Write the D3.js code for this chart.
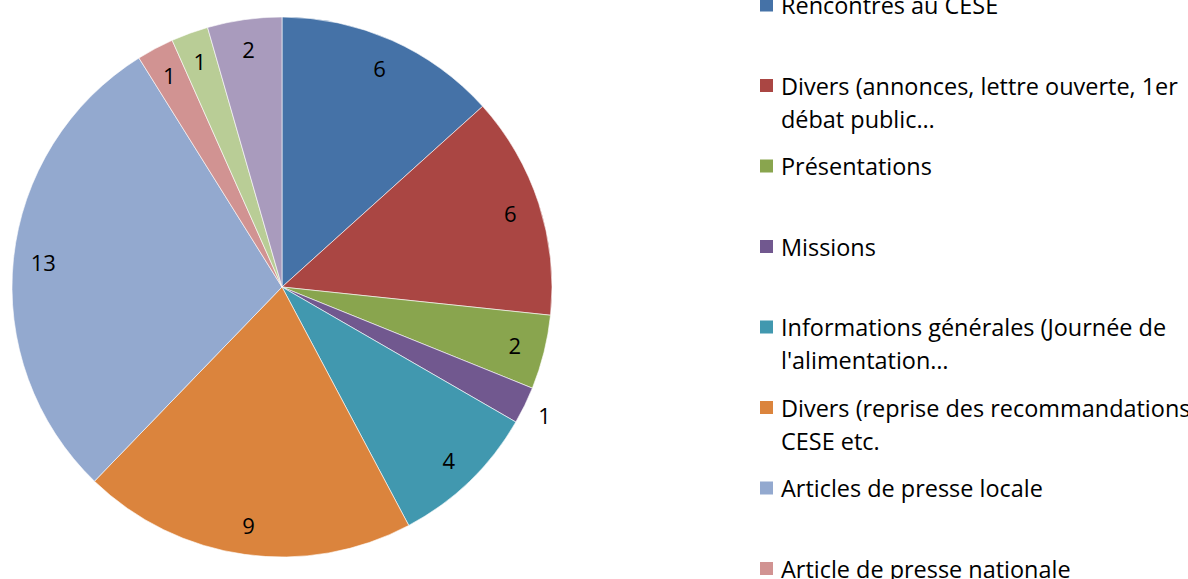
<!DOCTYPE html>
<html>
<head>
<meta charset="utf-8">
<script src="https://cdn.jsdelivr.net/npm/d3@7"></script>
<style>
  body { margin: 0; background: #fff; }
  svg { display: block; }
</style>
</head>
<body>
<svg id="chart"></svg>
<script>
// Categories (legend lines as shown, Excel-truncated)
const categories = [
    ["Rencontres au CESE"],
    ["Divers (annonces, lettre ouverte, 1er", "débat public…"],
    ["Présentations"],
    ["Missions"],
    ["Informations générales (Journée de", "l'alimentation…"],
    ["Divers (reprise des recommandations", "CESE etc."],
    ["Articles de presse locale"],
    ["Article de presse nationale"],
    ["Autres"],
    ["Autres (2)"]
];
const values = [6, 6, 2, 1, 4, 9, 13, 1, 1, 2];
const colors = ["#4572A7", "#AA4643", "#89A54E", "#71588F", "#4198AF",
                "#DB843D", "#93A9CF", "#D19392", "#B9CD96", "#A99BBD"];

function DrawPie(targetElem, width, height) {

    const svg = d3.select(targetElem)
        .attr("width", width)
        .attr("height", height);

    svg.selectAll("*").remove();

    const cx = 282, cy = 287, radius = 270;
    const font = "'Open Sans', 'Noto Sans', sans-serif";

    const data = values.map((v, i) => ({ key: i, value: v }));

    const pie = d3.pie()
        .sort(null)
        .value(d => d.value);

    const arc = d3.arc()
        .innerRadius(0)
        .outerRadius(radius);

    const labelArc = d3.arc()
        .innerRadius(240)
        .outerRadius(240);

    // small slice whose label sits outside
    const outsideArc = d3.arc()
        .innerRadius(292)
        .outerRadius(292);

    const color = d3.scaleOrdinal()
        .domain(d3.range(values.length))
        .range(colors);

    const g = svg.append("g")
        .attr("transform", `translate(${cx}, ${cy})`);

    const arcs = pie(data);

    // Slices
    g.selectAll(".slice")
        .data(arcs)
        .enter()
        .append("path")
        .attr("class", "slice")
        .attr("d", arc)
        .attr("fill", d => color(d.data.key))
        .attr("stroke", "#ffffff")
        .attr("stroke-width", 0.6);

    // Value labels
    g.selectAll(".label")
        .data(arcs)
        .enter()
        .append("text")
        .attr("class", "label")
        .attr("transform", d => {
            const a = d.data.key === 3 ? outsideArc : labelArc;
            return `translate(${a.centroid(d)})`;
        })
        .attr("text-anchor", "middle")
        .attr("dominant-baseline", "central")
        .style("font-family", font)
        .style("font-size", "22px")
        .attr("fill", "#000")
        .text(d => d.data.value);

    // Legend
    const legendY = d3.scaleLinear()
        .domain([0, 1])
        .range([5, 85.5]);

    const legend = svg.selectAll(".legend")
        .data(categories)
        .enter()
        .append("g")
        .attr("class", "legend")
        .attr("transform", (d, i) => `translate(760, ${legendY(i)})`);

    legend.append("rect")
        .attr("x", 0)
        .attr("y", -6.5)
        .attr("width", 13)
        .attr("height", 13)
        .attr("fill", (d, i) => color(i));

    legend.each(function(lines) {
        const t = d3.select(this).append("text")
            .attr("class", "legend-text")
            .attr("x", 21)
            .attr("y", 0)
            .style("font-family", font)
            .style("font-size", "20px")
            .attr("fill", "#000");
        lines.forEach((line, j) => {
            t.append("tspan")
                .attr("x", 21)
                .attr("y", j * 33)
                .attr("dominant-baseline", "central")
                .text(line);
        });
    });

    // fit legend font so the longest line is ~397px wide, as in the original
    const probe = svg.selectAll(".legend-text").nodes()[1].firstChild;
    const w = probe.getComputedTextLength();
    const fs = Math.min(23.5, 20 * 397 / w);
    svg.selectAll(".legend-text").style("font-size", fs + "px");
}

DrawPie("#chart", 1188, 579);
</script>
</body>
</html>
